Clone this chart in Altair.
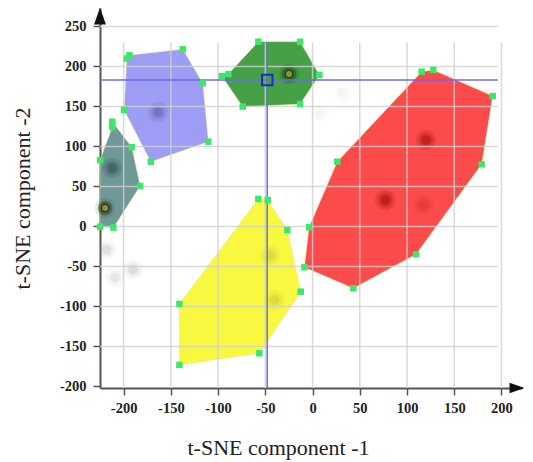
import altair as alt
import pandas as pd

# ---- cluster hull vertices ----
clusters = ["teal", "lavender", "green", "yellow", "red"]
fill_colors = ["#6f9898", "#9d9df5", "#46a046", "#f8f840", "#fd4a4a"]

teal_x = [-224.9, -212.0, -212.0, -191.3, -182.5, -210.8, -224.9]
teal_y = [83.0, 124.0, 131.0, 99.0, 50.6, -1.5, -0.3]

lav_x = [-199.5, -196.6, -193.8, -137.4, -116.2, -110.3, -171.2]
lav_y = [145.6, 210.0, 214.0, 221.5, 179.0, 106.0, 81.0]

green_x = [-96.1, -89.1, -57.4, -13.2, 7.2, -13.2, -73.9]
green_y = [188.0, 190.6, 231.0, 231.0, 189.4, 153.0, 149.8]

yellow_x = [-57.4, -47.4, -26.7, -12.5, -56.3, -141.0, -141.0]
yellow_y = [34.4, 33.0, -4.4, -81.5, -158.5, -173.0, -96.9]

red_x = [115.5, 127.8, 190.7, 179.0, 109.5, 43.2, -8.6, -3.7, 26.2]
red_y = [193.5, 195.6, 163.0, 77.7, -34.8, -77.3, -51.0, -1.0, 81.0]

# density spots inside / around the clusters
spot_x = [120.0, 77.0, 117.0, -163.5, -212.0, -219.6, -24.9, -218.0, -190.0, -209.0, -45.0, -40.0, 32.0, 8.0]
spot_y = [108.0, 33.0, 27.0, 143.0, 73.0, 23.0, 190.6, -29.0, -54.0, -64.0, -36.0, -92.0, 167.0, 142.0]
spot_c = ["#b01818", "#b01818", "#d03030", "#6464b0", "#3a5a5a", "#2a3a22", "#1e4a1e",
          "#999999", "#999999", "#999999", "#c8c830", "#c8c830", "#aaaaaa", "#aaaaaa"]
spot_o = [0.6, 0.65, 0.35, 0.5, 0.6, 0.9, 0.95, 0.18, 0.2, 0.14, 0.35, 0.35, 0.06, 0.06]
spot_halo = [0.35, 0.35, 0.35, 0.35, 0.35, 0.12, 0.2, 0.35, 0.35, 0.35, 0.35, 0.35, 0.35, 0.35]
core_x = [-219.6, -24.9]
core_y = [23.0, 190.6]

# selected sample (crosshair)
sel_x = [-48.0]
sel_y = [183.0]

# axes
x_ticks = list(range(-200, 201, 25))
y_ticks = list(range(-200, 251, 25))
x_grid = list(range(-200, 201, 50))
y_grid = list(range(-150, 251, 50))
X_MIN, X_MAX = -225.0, 221.7
Y_MIN, Y_MAX = -201.9, 273.1
GRID_X_END = 196.0
GRID_Y_END = 230.0

rows = []
for name, xs, ys in [("teal", teal_x, teal_y), ("lavender", lav_x, lav_y),
                     ("green", green_x, green_y), ("yellow", yellow_x, yellow_y),
                     ("red", red_x, red_y)]:
    for i, (a, b) in enumerate(zip(xs, ys)):
        rows.append({"cluster": name, "order": i, "x": a, "y": b})
poly_df = pd.DataFrame(rows)
spots_df = pd.DataFrame({"x": spot_x, "y": spot_y, "c": spot_c, "o": spot_o, "h": spot_halo})
spots_df["o_halo"] = spots_df["o"] * spots_df["h"]
spots_df["o_mid"] = spots_df["o"] * 0.5
core_df = pd.DataFrame({"x": core_x, "y": core_y})
sel_df = pd.DataFrame({"x": sel_x, "y": sel_y})
vgrid_df = pd.DataFrame({"x": x_grid})
hgrid_df = pd.DataFrame({"y": y_grid})

FONT = "Liberation Serif"
xscale = alt.Scale(domain=[X_MIN, X_MAX], nice=False, zero=False)
yscale = alt.Scale(domain=[Y_MIN, Y_MAX], nice=False, zero=False)

major = "datum.value % 50 === 0"
xaxis = alt.Axis(
    values=x_ticks, grid=False,
    labelExpr=f"{major} ? '' + datum.value : ''",
    tickSize={"condition": {"test": major, "value": 7}, "value": 3.5},
    domainColor="#555", domainWidth=2, tickColor="#555", tickWidth=1.5,
    labelFont=FONT, labelFontWeight="bold", labelFontSize=14.5, labelColor="#222",
    labelPadding=6, labelFlush=False, labelOverlap=False,
    title="t-SNE component -1", titleFont=FONT, titleFontSize=22,
    titleFontWeight="normal", titleColor="#222",
    titleX=178, titleY=66, titleBaseline="alphabetic", titleAlign="center",
)
yaxis = alt.Axis(
    values=y_ticks, grid=False,
    labelExpr=f"{major} ? '' + datum.value : ''",
    tickSize={"condition": {"test": major, "value": 7}, "value": 3.5},
    domainColor="#555", domainWidth=2, tickColor="#555", tickWidth=1.5,
    labelFont=FONT, labelFontWeight="bold", labelFontSize=14.5, labelColor="#222",
    labelPadding=7, labelFlush=False, labelOverlap=False,
    title="t-SNE component -2", titleFont=FONT, titleFontSize=22,
    titleFontWeight="normal", titleColor="#222",
    titleX=-71, titleY=190, titleAngle=270, titleBaseline="alphabetic", titleAlign="center",
)

X = alt.X("x:Q", scale=xscale, axis=xaxis)
Y = alt.Y("y:Q", scale=yscale, axis=yaxis)

polys = alt.Chart(poly_df).mark_line(
    filled=True, interpolate="linear-closed",
    stroke="#e6e67a", strokeWidth=0.8, strokeOpacity=0.6,
).encode(
    x=X, y=Y,
    color=alt.Color("cluster:N", scale=alt.Scale(domain=clusters, range=fill_colors), legend=None),
    detail="cluster:N",
    order="order:Q",
)

halo = alt.Chart(spots_df).mark_circle(size=420).encode(
    x=X, y=Y, color=alt.Color("c:N", scale=None), opacity=alt.Opacity("o_halo:Q", scale=None)
)
mid = alt.Chart(spots_df).mark_circle(size=220).encode(
    x=X, y=Y, color=alt.Color("c:N", scale=None), opacity=alt.Opacity("o_mid:Q", scale=None)
)
spots = alt.Chart(spots_df).mark_circle(size=90).encode(
    x=X, y=Y, color=alt.Color("c:N", scale=None), opacity=alt.Opacity("o:Q", scale=None)
)
cores = alt.Chart(core_df).mark_circle(size=35, color="#a09a28", opacity=0.9).encode(x=X, y=Y)

vgrid = alt.Chart(vgrid_df).mark_rule(color="#cfcfcf", strokeWidth=1.5, opacity=0.8).encode(
    x=X, y=alt.datum(Y_MIN), y2=alt.datum(GRID_Y_END)
)
hgrid = alt.Chart(hgrid_df).mark_rule(color="#cfcfcf", strokeWidth=1.5, opacity=0.8).encode(
    y=Y, x=alt.datum(X_MIN), x2=alt.datum(GRID_X_END)
)

cross_v = alt.Chart(sel_df).mark_rule(color="#6a6af0", strokeWidth=1.5).encode(
    x=X, y=alt.datum(Y_MIN), y2=alt.datum(GRID_Y_END)
)
cross_h = alt.Chart(sel_df).mark_rule(color="#6a6af0", strokeWidth=1.5).encode(
    y=Y, x=alt.datum(X_MIN), x2=alt.datum(GRID_X_END)
)

verts = alt.Chart(poly_df).mark_square(size=42, color="#3ee66b", opacity=1).encode(x=X, y=Y)

sel_mark = alt.Chart(sel_df).mark_square(
    size=110, filled=False, stroke="#1a30c0", strokeWidth=2, fill="#5a8a5a", fillOpacity=0.6
).encode(x=X, y=Y)

arrow_up = alt.Chart(sel_df).mark_point(
    shape="M0,-1L0.7,1L-0.7,1Z", size=289, filled=True, color="#111", opacity=1, yOffset=8
).encode(x=alt.datum(X_MIN), y=alt.datum(Y_MAX))
arrow_right = alt.Chart(sel_df).mark_point(
    shape="M1,0L-1,-0.7L-1,0.7Z", size=225, filled=True, color="#111", opacity=1, xOffset=-5
).encode(x=alt.datum(X_MAX), y=alt.datum(Y_MIN))

chart = alt.layer(
    polys, halo, mid, spots, cores, vgrid, hgrid, cross_v, cross_h, verts, sel_mark,
    arrow_up, arrow_right
).properties(
    width=422, height=380,
    autosize=alt.AutoSizeParams(type="none"),
    padding={"left": 92, "top": 0, "right": 3, "bottom": 72},
).configure_view(strokeWidth=0)

chart.save("out.html", embed_options={"renderer": "svg", "actions": False})
